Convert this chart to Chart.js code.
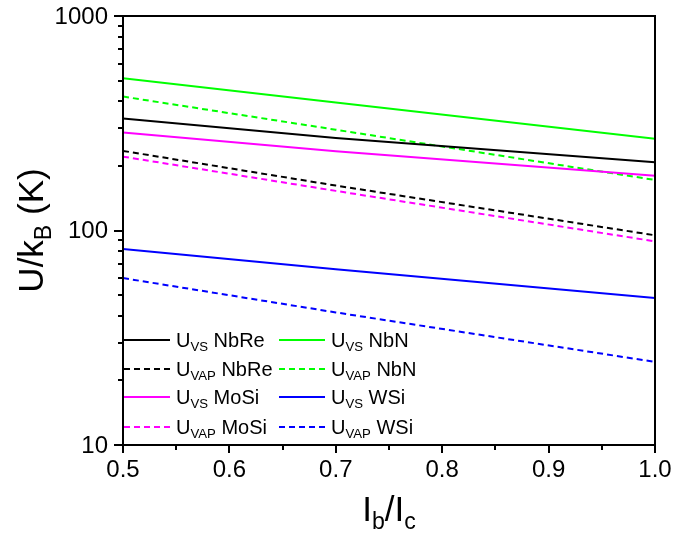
<!DOCTYPE html>
<html>
<head>
<meta charset="utf-8">
<script src="https://cdn.jsdelivr.net/npm/chart.js@4/dist/chart.umd.min.js"></script>
<style>
  html, body { margin: 0; padding: 0; background: #ffffff; }
  #wrap { width: 674px; height: 535px; }
</style>
</head>
<body>
<div id="wrap"><canvas id="c" width="674" height="535"></canvas></div>
<script>
// Bias current ratio I_b/I_c
const currentRatio = [0.5, 0.7, 1.0];

// Barrier energies U/k_B (K)
const uVsNbRe  = [333, 270, 208];
const uVapNbRe = [235, 162, 95];
const uVsMoSi  = [286, 234, 180];
const uVapMoSi = [221, 153, 89];
const uVsNbN   = [512, 395, 268];
const uVapNbN  = [421, 295, 172];
const uVsWSi   = [82, 66, 48.4];
const uVapWSi  = [60, 41.5, 24.4];

// Axis ticks
const xMajorTicks = [0.5, 0.6, 0.7, 0.8, 0.9, 1.0];
const xTickLabels = ['0.5', '0.6', '0.7', '0.8', '0.9', '1.0'];
const xMinorTicks = [0.55, 0.65, 0.75, 0.85, 0.95];
const yMajorTicks = [10, 100, 1000];
const yTickLabels = ['10', '100', '1000'];
const yMinorTicks = [20, 30, 40, 50, 60, 70, 80, 90, 200, 300, 400, 500, 600, 700, 800, 900];

const FONT = '"Liberation Sans", Arial, Helvetica, sans-serif';

function pts(ys) { return currentRatio.map((x, i) => ({ x: x, y: ys[i] })); }

function series(sub, material, ys, color, dashed) {
  return {
    label: 'U' + sub + ' ' + material,
    sub: sub, material: material,
    data: pts(ys),
    borderColor: color,
    backgroundColor: color,
    borderWidth: 2,
    borderDash: dashed ? [6, 4] : [],
    pointRadius: 0,
    tension: 0,
    fill: false
  };
}

const datasets = [
  series('VS',  'NbRe', uVsNbRe,  '#000000', false),
  series('VAP', 'NbRe', uVapNbRe, '#000000', true),
  series('VS',  'MoSi', uVsMoSi,  '#ff00ff', false),
  series('VAP', 'MoSi', uVapMoSi, '#ff00ff', true),
  series('VS',  'NbN',  uVsNbN,   '#00ff00', false),
  series('VAP', 'NbN',  uVapNbN,  '#00ff00', true),
  series('VS',  'WSi',  uVsWSi,   '#0000ff', false),
  series('VAP', 'WSi',  uVapWSi,  '#0000ff', true)
];

// Draw a run of text pieces, some of them subscripts; returns end x
function drawRich(ctx, x, y, parts, size) {
  let cx = x;
  ctx.textBaseline = 'alphabetic';
  ctx.textAlign = 'left';
  parts.forEach(p => {
    const s = p.sub ? size * 0.66 : size;
    ctx.font = s + 'px ' + FONT;
    ctx.fillText(p.text, cx, y + (p.sub ? size * 0.22 : 0));
    cx += ctx.measureText(p.text).width;
  });
  return cx;
}

function richWidth(ctx, parts, size) {
  let w = 0;
  parts.forEach(p => {
    const s = p.sub ? size * 0.66 : size;
    ctx.font = s + 'px ' + FONT;
    w += ctx.measureText(p.text).width;
  });
  return w;
}

const framePlugin = {
  id: 'frame',
  afterDraw(chart) {
    const ctx = chart.ctx;
    const a = chart.chartArea;
    const xs = chart.scales.x, ys = chart.scales.y;
    ctx.save();
    ctx.strokeStyle = '#000';
    ctx.fillStyle = '#000';
    ctx.lineWidth = 2;
    ctx.setLineDash([]);
    ctx.lineCap = 'butt';

    // frame
    ctx.strokeRect(a.left, a.top, a.right - a.left, a.bottom - a.top);

    // x ticks (outward)
    ctx.beginPath();
    xMajorTicks.forEach(v => {
      const px = Math.round(xs.getPixelForValue(v));
      ctx.moveTo(px, a.bottom); ctx.lineTo(px, a.bottom + 8);
    });
    xMinorTicks.forEach(v => {
      const px = Math.round(xs.getPixelForValue(v));
      ctx.moveTo(px, a.bottom); ctx.lineTo(px, a.bottom + 5);
    });
    // y ticks (outward)
    yMajorTicks.forEach(v => {
      const py = Math.round(ys.getPixelForValue(v));
      ctx.moveTo(a.left, py); ctx.lineTo(a.left - 9, py);
    });
    yMinorTicks.forEach(v => {
      const py = Math.round(ys.getPixelForValue(v));
      ctx.moveTo(a.left, py); ctx.lineTo(a.left - 5, py);
    });
    ctx.stroke();

    // tick labels
    ctx.font = '24px ' + FONT;
    ctx.textAlign = 'center';
    ctx.textBaseline = 'alphabetic';
    xMajorTicks.forEach((v, i) => {
      ctx.fillText(xTickLabels[i], xs.getPixelForValue(v), a.bottom + 32);
    });
    ctx.textAlign = 'right';
    ctx.textBaseline = 'middle';
    yMajorTicks.forEach((v, i) => {
      ctx.fillText(yTickLabels[i], a.left - 15, ys.getPixelForValue(v) + 1);
    });

    // x title: I_b/I_c
    const xt = [{ text: 'I' }, { text: 'b', sub: true }, { text: '/I' }, { text: 'c', sub: true }];
    const xw = richWidth(ctx, xt, 35);
    drawRich(ctx, (a.left + a.right) / 2 - xw / 2, 521, xt, 35);

    // y title: U/k_B (K)
    const yt = [{ text: 'U/k' }, { text: 'B', sub: true }, { text: ' (K)' }];
    const yw = richWidth(ctx, yt, 35);
    ctx.save();
    ctx.translate(43, (a.top + a.bottom) / 2);
    ctx.rotate(-Math.PI / 2);
    drawRich(ctx, -yw / 2, 0, yt, 35);
    ctx.restore();

    // legend: two columns of four entries
    const rowY = [340, 369, 397, 427];
    const cols = [
      { x0: a.left + 1, x1: 170, tx: 176 },
      { x0: 279, x1: 325, tx: 331 }
    ];
    chart.data.datasets.forEach((ds, i) => {
      const col = cols[Math.floor(i / 4)];
      const y = rowY[i % 4];
      ctx.beginPath();
      ctx.strokeStyle = ds.borderColor;
      ctx.lineWidth = 2;
      ctx.setLineDash(ds.borderDash);
      ctx.moveTo(col.x0, y); ctx.lineTo(col.x1, y);
      ctx.stroke();
      ctx.setLineDash([]);
      ctx.fillStyle = '#000';
      drawRich(ctx, col.tx, y + 7, [{ text: 'U' }, { text: ds.sub, sub: true }, { text: ' ' + ds.material }], 20);
    });
    ctx.restore();
  }
};

new Chart(document.getElementById('c'), {
  type: 'line',
  data: { datasets: datasets },
  options: {
    responsive: false,
    animation: false,
    devicePixelRatio: 1,
    layout: { padding: { left: 123, top: 16, right: 19, bottom: 90 } },
    plugins: { legend: { display: false }, tooltip: { enabled: false } },
    scales: {
      x: { type: 'linear', min: 0.5, max: 1.0, display: false },
      y: { type: 'logarithmic', min: 10, max: 1000, display: false }
    }
  },
  plugins: [framePlugin]
});
</script>
</body>
</html>
